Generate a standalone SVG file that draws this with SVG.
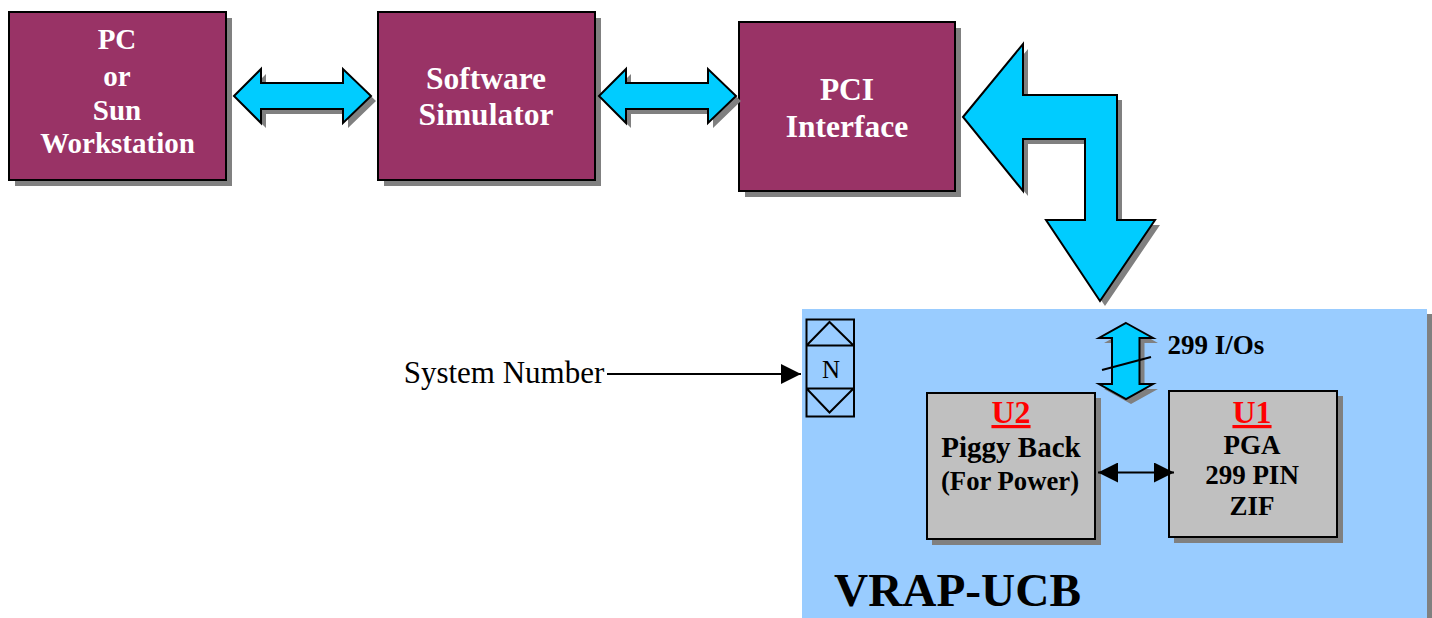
<svg xmlns="http://www.w3.org/2000/svg" width="1432" height="618" viewBox="0 0 1432 618">
<style>
.t{font-family:"Liberation Serif","Times New Roman",serif;font-weight:bold;text-anchor:middle}
.w{fill:#fff;font-size:29px}
.w2{fill:#fff;font-size:31.5px}
.k{fill:#000;font-size:27px}
.r{fill:#f00;font-size:32px;text-decoration:underline}
.box{fill:#993366;stroke:#000;stroke-width:2}
.g{fill:#c0c0c0;stroke:#000;stroke-width:2}
.sh{fill:#808080}
.ar{fill:#00ccff;stroke:#000;stroke-width:2;stroke-linejoin:miter}
.ln{fill:none;stroke:#000;stroke-width:2}
</style>
<defs>
<polygon id="h" points="234,96 261,69 261,83 343,83 343,69 371,96 343,123 343,109 261,109 261,123"/>
<polygon id="v" points="1126,323 1153,338 1139.500,338 1139.500,384 1153,384 1126,399 1099,384 1112,384 1112,338 1099,338"/>
<marker id="mk" markerUnits="userSpaceOnUse" markerWidth="20" markerHeight="20" refX="20" refY="10" orient="auto-start-reverse"><path d="M0,0L20,10L0,20Z" fill="#000"/></marker>
</defs>
<g id="board"><rect x="807" y="314" width="625" height="304" class="sh"/><rect x="802" y="309" width="625" height="309" fill="#99ccff"/>
<text x="957.500" y="606" class="t" font-size="47.300" fill="#000">VRAP-UCB</text></g>
<g id="pc"><rect x="15" y="18" width="217" height="168" class="sh"/><rect x="9" y="12" width="217" height="168" class="box"/>
<text class="t w" x="117" y="49">PC</text><text class="t w" x="117" y="86">or</text><text class="t w" x="117" y="120">Sun</text><text class="t w" x="117.500" y="153">Workstation</text></g>
<g id="sim"><rect x="384" y="18" width="217" height="168" class="sh"/><rect x="378" y="12" width="217" height="168" class="box"/>
<text class="t w2" x="486" y="89">Software</text><text class="t w2" x="486" y="125">Simulator</text></g>
<g id="pci"><rect x="745" y="28" width="216" height="169" class="sh"/><rect x="739" y="22" width="216" height="169" class="box"/>
<text class="t w2" x="847" y="100">PCI</text><text class="t w2" x="847" y="137">Interface</text></g>
<g id="system-number"><text x="504" y="383" font-family="'Liberation Serif',serif" font-size="31" text-anchor="middle" fill="#000">System Number</text></g>
<g id="n"><rect x="806.500" y="319.500" width="47.500" height="97" fill="#99ccff" stroke="#000" stroke-width="2"/>
<path class="ln" d="M807,345.500H854M807,388.500H854M807,345L829.500,322L853,345M807,389L829.500,412.500L853,389"/>
<text x="831" y="378" font-family="'Liberation Serif',serif" font-size="25" text-anchor="middle" fill="#000">N</text></g>
<g id="u2"><rect x="932" y="398" width="169" height="147" class="sh"/><rect x="927" y="393" width="168" height="146" class="g"/>
<text class="t r" x="1011" y="423">U2</text><text class="t" font-size="29" x="1011" y="457">Piggy Back</text><text class="t" font-size="26.700" x="1010" y="490">(For Power)</text></g>
<g id="u1"><rect x="1174" y="396" width="169" height="147" class="sh"/><rect x="1169" y="391" width="168" height="146" class="g"/>
<text class="t r" x="1252" y="423">U1</text><text class="t k" x="1252" y="454">PGA</text><text class="t k" x="1252" y="484">299 PIN</text><text class="t k" x="1252" y="515">ZIF</text></g>
<g id="ios"><text class="t k" x="1216" y="354">299 I/Os</text></g>
<g id="connectors">
<use href="#h" class="sh" transform="translate(5,5)"/><use href="#h" class="ar"/>
<use href="#h" class="sh" transform="translate(370,5)"/><use href="#h" class="ar" transform="translate(365,0)"/>
<polygon class="sh" points="968,122 1028,49 1028,100 1122,100 1122,225 1160,225 1105,306 1051,225 1090,225 1090,144 1028,144 1028,196"/>
<polygon class="ar" points="963,117 1023,44 1023,95 1117,95 1117,220 1155,220 1100,301 1046,220 1085,220 1085,139 1023,139 1023,191"/>
<use href="#v" class="sh" transform="translate(5,5)"/><use href="#v" class="ar"/>
<line class="ln" x1="1102" y1="370" x2="1151" y2="357"/>
<line class="ln" x1="607" y1="374" x2="801" y2="374" marker-end="url(#mk)"/>
<line class="ln" x1="1098" y1="472.500" x2="1174" y2="472.500" marker-start="url(#mk)" marker-end="url(#mk)"/>
</g>
</svg>
